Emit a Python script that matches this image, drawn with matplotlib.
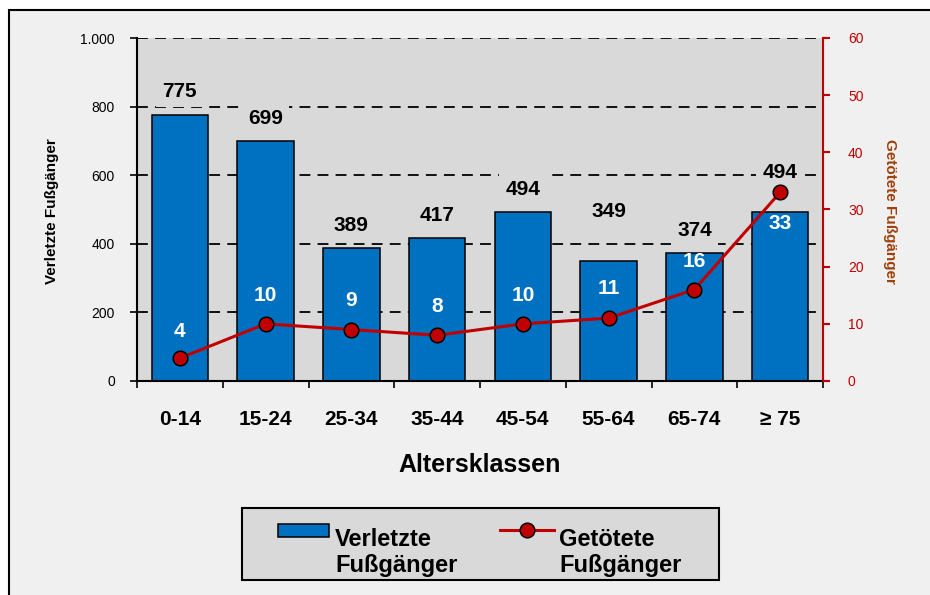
""" Verletzte und getötete Fußgänger nach Altersklassen """
import matplotlib
matplotlib.use('Agg')
import matplotlib.pyplot as plt
from matplotlib.patches import Rectangle
from matplotlib.lines import Line2D
from matplotlib.ticker import FuncFormatter, MultipleLocator

#data
altersklassen = ['0-14', '15-24', '25-34', '35-44', '45-54', '55-64', '65-74', '≥ 75']
verletzte = [775, 699, 389, 417, 494, 349, 374, 494]
getoetete = [4, 10, 9, 8, 10, 11, 16, 33]

#colors
BLUE = '#0070C0'
RED = '#C00000'
BROWN = '#A0400A'
PLOT_BG = '#D9D9D9'
CHART_BG = '#F0F0F0'

plt.rcParams['font.family'] = ['Liberation Sans', 'DejaVu Sans']

W, H = 930, 595
fig = plt.figure(figsize=(W / 100, H / 100), dpi=100, facecolor='white')

def fx(x):  # pixel -> figure fraction
    return x / W

def fy(y):
    return 1 - y / H

#outer chart frame: only left and top edges are inside the picture
fig.patches.append(Rectangle((fx(9), 0), 1 - fx(9), fy(10), transform=fig.transFigure,
                             facecolor=CHART_BG, edgecolor='none', zorder=-5))
fig.lines.append(Line2D([fx(9), fx(9), 1], [0, fy(10), fy(10)], transform=fig.transFigure,
                        color='black', linewidth=1.5, solid_joinstyle='miter', zorder=-4))

ax = fig.add_axes([fx(137), fy(381), fx(823) - fx(137), fy(38) - fy(381)])
ax.set_facecolor(PLOT_BG)
x = list(range(len(altersklassen)))

bars = ax.bar(x, verletzte, width=0.66, color=BLUE, edgecolor='black', linewidth=1.1, zorder=2)
ax.set_xlim(-0.5, len(x) - 0.5)
ax.set_ylim(0, 1000)
ax.yaxis.set_major_locator(MultipleLocator(200))
ax.yaxis.set_major_formatter(FuncFormatter(lambda v, p: '{:,.0f}'.format(v).replace(',', '.')))
ax.set_axisbelow(True)
ax.yaxis.grid(True, color='black', linestyle=(0, (6, 4)), linewidth=1.3)

ax.set_xticks(x)
ax.set_xticklabels(altersklassen, fontsize=15, fontweight='bold')
ax.set_xticks([i - 0.5 for i in range(len(x) + 1)], minor=True)
ax.tick_params(axis='x', which='major', length=0, pad=21)
ax.tick_params(axis='x', which='minor', length=5, width=1.2, direction='out')
ax.tick_params(axis='y', length=5, width=1.2, labelsize=10, pad=11)

for s in ['top', 'right']:
    ax.spines[s].set_visible(False)
ax.spines['left'].set_linewidth(1.5)
ax.spines['bottom'].set_linewidth(1.5)

ax.set_xlabel('Altersklassen', fontsize=18, fontweight='bold')
ax.xaxis.set_label_coords(0.5, -0.21)
ax.set_ylabel('Verletzte Fußgänger', fontsize=11, fontweight='bold', va='center')
ax.yaxis.set_label_coords(-0.124, 0.495)

#bar labels (offset in pixels above bar top)
bar_off = [24, 23, 22, 22, 22, 50, 22, 39]
for i, v in enumerate(verletzte):
    ax.annotate(str(v), (x[i], v), xytext=(0, bar_off[i]), textcoords='offset pixels',
                ha='center', va='center', fontsize=15, fontweight='bold', zorder=3,
                bbox=dict(boxstyle='square,pad=0.3', facecolor=PLOT_BG, edgecolor='none'))

#secondary axis - killed
ax2 = ax.twinx()
ax2.plot(x, getoetete, color=RED, linewidth=2.2, marker='o', markersize=10.5,
         markerfacecolor=RED, markeredgecolor='black', markeredgewidth=1.1, zorder=4)
ax2.set_ylim(0, 60)
ax2.yaxis.set_major_locator(MultipleLocator(10))
ax2.tick_params(axis='y', length=5, width=1.5, color=RED, labelcolor=RED, labelsize=10, pad=13)
for s in ['top', 'left', 'bottom']:
    ax2.spines[s].set_visible(False)
ax2.spines['right'].set_color(RED)
ax2.spines['right'].set_linewidth(1.5)
ax2.set_ylabel('Getötete Fußgänger', fontsize=11, fontweight='bold', color=BROWN,
               rotation=-90, va='center')
ax2.yaxis.set_label_coords(1.097, 0.495)

line_off = [27, 28, 29, 29, 28, 30, 28, -31]
for i, v in enumerate(getoetete):
    ax2.annotate(str(v), (x[i], v), xytext=(0, line_off[i]), textcoords='offset pixels',
                 ha='center', va='center', fontsize=15, fontweight='bold', color='white', zorder=5)

#legend (drawn by hand to mimic the excel layout)
fig.patches.append(Rectangle((fx(242), fy(580)), fx(719) - fx(242), fy(508) - fy(580),
                             transform=fig.transFigure, facecolor=PLOT_BG, edgecolor='black',
                             linewidth=1.5, zorder=1))
fig.patches.append(Rectangle((fx(278), fy(537)), fx(329) - fx(278), fy(524) - fy(537),
                             transform=fig.transFigure, facecolor=BLUE, edgecolor='black',
                             linewidth=1.1, zorder=2))
fig.lines.append(Line2D([fx(500), fx(554)], [fy(530), fy(530)], transform=fig.transFigure,
                        color=RED, linewidth=2.2, zorder=2))
fig.lines.append(Line2D([fx(527)], [fy(530)], transform=fig.transFigure, marker='o',
                        markersize=10.5, markerfacecolor=RED, markeredgecolor='black',
                        markeredgewidth=1.1, zorder=3))
# va='baseline' on multi-line text aligns the last line
fig.text(fx(335), fy(572), 'Verletzte\nFußgänger', fontsize=17, fontweight='bold',
         va='baseline', ha='left', linespacing=1.15, zorder=3)
fig.text(fx(559), fy(572), 'Getötete\nFußgänger', fontsize=17, fontweight='bold',
         va='baseline', ha='left', linespacing=1.15, zorder=3)

fig.savefig('out.png', dpi=100, facecolor=fig.get_facecolor())
